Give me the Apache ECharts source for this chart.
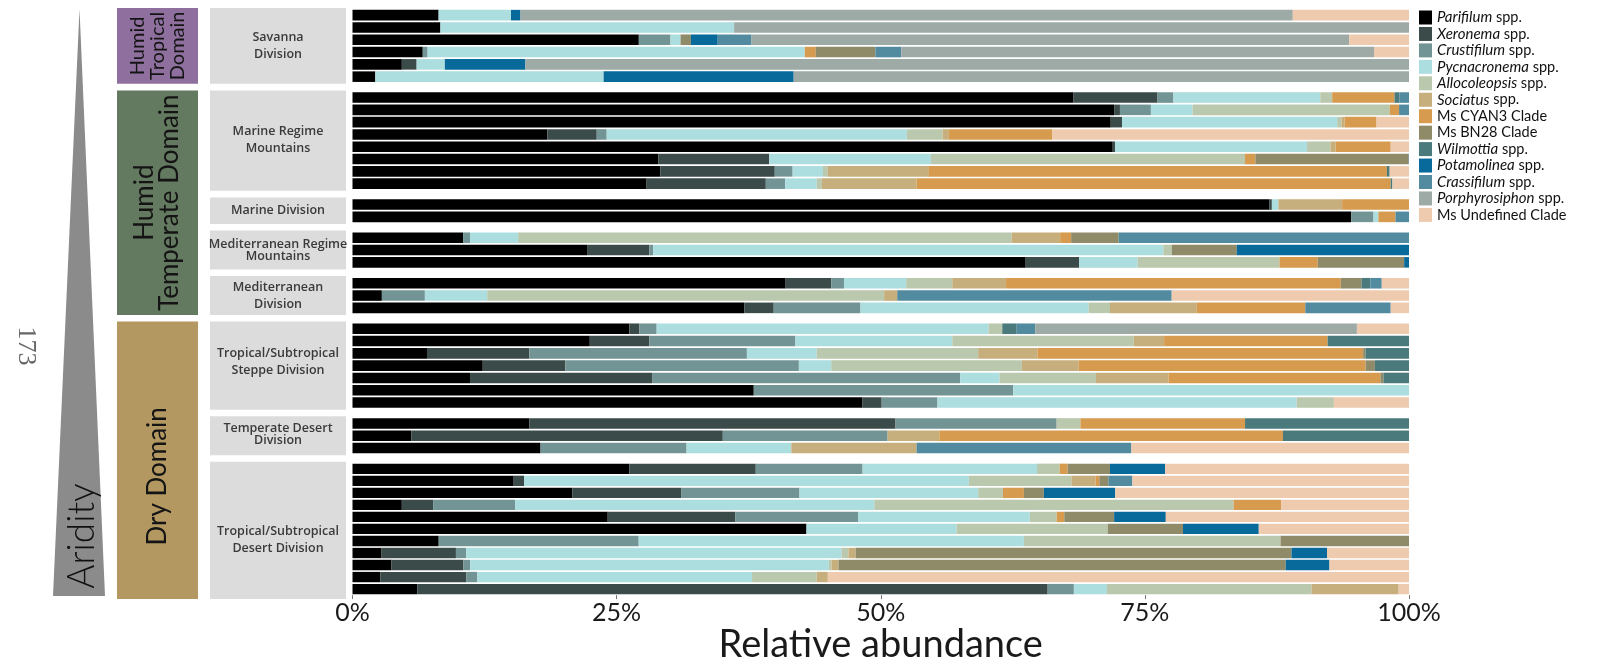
<!DOCTYPE html>
<html><head><meta charset="utf-8">
<script src="https://cdn.jsdelivr.net/npm/echarts@6/dist/echarts.min.js"></script>
<style>html,body{margin:0;padding:0;background:#fff}#c{width:1597px;height:665px}</style>
</head><body><div id="c"></div>
<script>
// ---------------- DATA ----------------
const speciesNames = ['Parifilum spp.','Xeronema spp.','Crustifilum spp.','Pycnacronema spp.','Allocoleopsis spp.','Sociatus spp.','Ms CYAN3 Clade','Ms BN28 Clade','Wilmottia spp.','Potamolinea spp.','Crassifilum spp.','Porphyrosiphon spp.','Ms Undefined Clade'];
const divisionNames = ['Savanna\nDivision','Marine Regime\nMountains','Marine Division','Mediterranean Regime\nMountains','Mediterranean\nDivision','Tropical/Subtropical\nSteppe Division','Temperate Desert\nDivision','Tropical/Subtropical\nDesert Division'];
const divisionSizes = [6, 8, 2, 3, 3, 7, 3, 11];
const domainNames = ['Humid\nTropical\nDomain','Humid\nTemperate Domain','Dry Domain'];
const domainDivisions = [[0,0],[1,4],[5,7]];
const xTicks = [0, 25, 50, 75, 100];

const parifilum = [8.15,8.32,27.1,6.65,4.67,2.16, 68.25,72.09,71.77,18.45,71.96,28.95,29.15,27.84, 86.76,94.52, 10.47,22.2,63.72, 41.0,2.78,37.1, 26.21,22.46,7.05,12.33,11.12,37.98,48.28, 16.73,5.58,17.8, 26.21,15.26,20.8,4.67,24.16,42.97,8.16,2.75,3.69,2.65,6.13];
const xeronema = [0,0,0,0,1.4,0, 7.95,0.55,1.07,4.67,0.23,10.5,10.82,11.28, 0.26,0, 0,5.9,5.05, 4.31,0,2.77, 0.95,5.64,9.68,7.82,17.28,0,1.81, 34.67,29.47,0, 11.96,0.98,10.3,2.96,12.06,0,0,7.04,6.81,8.11,59.67];
const crustifilum = [0,0,3.0,0.46,0,0, 1.5,2.93,0,0.94,0,0,1.69,1.83, 0,2.12, 0.65,0.36,0, 1.21,4.07,8.21, 1.63,13.82,20.6,22.1,29.12,24.56,5.28, 15.25,15.6,13.82, 10.11,0,11.21,7.76,11.64,0,18.93,0.97,0.65,1.05,2.48];
const pycnacronema = [6.85,27.8,0.95,35.7,2.67,21.61, 13.9,3.94,20.36,28.41,18.16,15.3,2.87,2.99, 0.62,0.46, 4.56,48.29,5.54, 5.89,5.9,21.6, 31.41,14.85,6.61,3.06,3.72,37.46,34.0, 0,0,9.91, 16.51,42.1,16.91,34.0,16.25,14.2,36.46,35.53,33.93,26.01,3.13];
const allocoleopsis = [0,0,0,0,0,0, 1.13,18.67,0.4,3.39,2.21,29.73,0.46,0.49, 0,0, 46.7,0.79,13.43, 4.36,37.57,2.02, 1.3,17.18,15.28,18.05,9.13,0,3.52, 2.25,0,0, 2.15,9.71,2.35,34.01,2.54,14.31,24.29,0.65,0.26,6.12,19.36];
const sociatus = [0,0,0,0,0,0, 0,0,0.3,0.59,0.49,0,9.57,8.96, 6.03,0, 4.6,0,0, 5.09,1.24,8.22, 0,2.87,5.61,5.38,6.87,0,0, 0,4.89,11.86, 0,2.28,0,0,0,0,0,0.69,0.66,1.05,8.25];
const cyan3 = [0,0,0,1.04,0,0, 5.9,0.88,3.03,9.78,5.22,0.98,43.35,44.88, 6.33,1.62, 1.04,0,3.62, 31.68,0,10.26, 0,15.48,30.83,27.15,20.05,0,0, 15.58,32.53,0, 0.75,0.36,1.98,4.5,0.72,0,0,0,0,0,0];
const bn28 = [0,0,0.98,5.64,0,0, 0,0,0,0,0,14.5,0,0, 0,0, 4.5,6.16,8.18, 1.96,0,0, 0,0,0.23,0.88,0.29,0,0, 0,0,0, 4.01,0.85,1.89,0,4.72,7.13,12.16,41.25,42.33,0,0];
const wilmottia = [0,0,0,0,0,0, 0.45,0,0,0,0,0.04,0.26,0.16, 0,0, 0,0,0, 0.84,0,0, 1.37,7.7,4.11,3.23,2.42,0,0, 15.52,11.93,0, 0,0,0,0,0,0,0,0,0,0,0];
const potamolinea = [0.9,0,2.54,0,7.63,17.99, 0,0,0,0,0,0,0,0, 0,0, 0,16.3,0.46, 0,0,0, 0,0,0,0,0,0,0, 0,0,0, 5.22,0,6.75,0,4.89,7.17,0,3.36,4.14,0,0];
const crassifilum = [0,0,3.2,2.45,0,0, 0.92,0.94,0,0,0,0,0,0, 0,1.28, 27.48,0,0, 1.08,25.98,8.09, 1.76,0,0,0,0,0,0, 0,0,20.33, 0,2.28,0,0,0,0,0,0,0,0,0];
const porphyrosiphon = [73.1,63.88,56.56,44.75,83.63,58.24, 0,0,0,0,0,0,0,0, 0,0, 0,0,0, 0,0,0, 30.44,0,0,0,0,0,0, 0,0,0, 0,0,0,0,0,0,0,0,0,0,0];
const undefinedClade = [11.0,0,5.67,3.31,0,0, 0,0,3.07,33.77,1.73,0,1.83,1.57, 0,0, 0,0,0, 2.58,22.46,1.73, 4.93,0,0,0,0,0,7.11, 0,0,26.28, 23.08,26.18,27.81,12.1,23.02,14.22,0,7.76,7.53,55.01,0.98];

const seriesValues = [parifilum, xeronema, crustifilum, pycnacronema, allocoleopsis, sociatus, cyan3, bn28, wilmottia, potamolinea, crassifilum, porphyrosiphon, undefinedClade];

// ---------------- STYLE / LAYOUT ----------------
const colors = ['#000000','#3b4b4a','#739494','#acdddf','#bac8ad','#c6af7c','#d69b4e','#8f8a68','#4a7a7c','#086a9b','#528ba0','#9daaa5','#eecaae'];
const domainColors = ['#8e6f9d','#647a60','#b39862'];
const TOP = 9, PITCH = 12.3, GAP = 8.6, LEFT = 352.5, RIGHT = 1597 - 1409;
const divLineHeights = [17, 17, 17, 12, 17, 17, 12, 17];
const divTextOffsets = [0, -1, 0, 0, 0, -4, -1, 9];
const FONT = 'Lato, "Open Sans", sans-serif';

const grids = [], xAxes = [], yAxes = [], series = [], groupTops = [], groupBottoms = [];
let y = TOP, start = 0;
divisionSizes.forEach((n, g) => {
  const h = n * PITCH;
  const last = g === divisionSizes.length - 1;
  grids.push({left: LEFT, right: RIGHT, top: y, height: h});
  xAxes.push({
    type: 'value', gridIndex: g, min: xTicks[0], max: xTicks[xTicks.length-1], interval: 25,
    axisLine: {show: false}, splitLine: {show: false},
    axisTick: {show: last, length: 4, lineStyle: {color: '#777'}},
    axisLabel: {show: last, formatter: '{value}%', fontSize: 25, color: '#1a1a1a', fontFamily: FONT, margin: 5},
    name: last ? 'Relative abundance' : '', nameLocation: 'middle', nameGap: 28,
    nameTextStyle: {fontSize: 38, color: '#1a1a1a', fontFamily: FONT}
  });
  const rowLabels = [];
  for (let i = 0; i < n; i++) rowLabels.push(divisionNames[g].replace('\n',' ') + ' ' + (i+1));
  yAxes.push({type: 'category', gridIndex: g, inverse: true, data: rowLabels, show: false});
  speciesNames.forEach((s, k) => {
    series.push({
      type: 'bar', name: s, stack: 'g' + g, xAxisIndex: g, yAxisIndex: g,
      barWidth: '86%', data: seriesValues[k].slice(start, start + n),
      itemStyle: {color: colors[k]}, silent: true
    });
  });
  groupTops.push(y); groupBottoms.push(y + h);
  y += h + GAP; start += n;
});

const graphic = [];
// aridity triangle
graphic.push({type: 'polygon', shape: {points: [[79.5, 9], [53, 596], [105, 596]]}, style: {fill: '#8b8b8b'}, silent: true});
graphic.push({type: 'text', x: 82, y: 536, rotation: Math.PI/2, style: {text: 'Aridity', font: '300 37px ' + FONT, fill: '#111', textAlign: 'center', textVerticalAlign: 'middle'}, silent: true});
graphic.push({type: 'text', x: 26, y: 346, rotation: -Math.PI/2, style: {text: '173', font: '26px "Liberation Serif", serif', fill: '#666', textAlign: 'center', textVerticalAlign: 'middle'}, silent: true});
// domain boxes
const domainFonts = [20, 26, 26];
const domainLH = [20, 25, 26];
const domainTextDY = [0, 0, 16];
domainNames.forEach((d, i) => {
  const t = groupTops[domainDivisions[i][0]] - 1, b = groupBottoms[domainDivisions[i][1]] + 1;
  graphic.push({type: 'rect', shape: {x: 117, y: t, width: 81, height: b - t}, style: {fill: domainColors[i]}, silent: true});
  graphic.push({type: 'text', x: 157.5, y: (t + b)/2 + domainTextDY[i], rotation: Math.PI/2,
    style: {text: d, font: domainFonts[i] + 'px ' + FONT, lineHeight: domainLH[i], fill: '#141414', textAlign: 'center', textVerticalAlign: 'middle'}, silent: true});
});
// division boxes
divisionNames.forEach((d, g) => {
  const t = groupTops[g] - 1, b = groupBottoms[g] + 1;
  graphic.push({type: 'rect', shape: {x: 210, y: t, width: 136, height: b - t}, style: {fill: '#dcdcdc'}, silent: true});
  graphic.push({type: 'text', x: 278, y: (t + b)/2 + divTextOffsets[g],
    style: {text: d, font: '600 12.5px "Open Sans", sans-serif', lineHeight: divLineHeights[g], fill: '#3a3a3a', textAlign: 'center', textVerticalAlign: 'middle'}, silent: true});
});

const chart = echarts.init(document.getElementById('c'), null, {renderer: 'canvas'});
chart.setOption({
  animation: false,
  backgroundColor: '#ffffff',
  grid: grids, xAxis: xAxes, yAxis: yAxes, series: series,
  legend: {
    orient: 'vertical', left: 1414, top: 5, itemWidth: 13, itemHeight: 14, itemGap: 1.45,
    icon: 'rect', selectedMode: false, data: speciesNames,
    formatter: function (name) {
      if (name.endsWith(' spp.')) return '{i|' + name.slice(0, -5) + '} spp.';
      return name;
    },
    textStyle: {fontFamily: FONT, fontSize: 14.5, color: '#111', lineHeight: 14,
      rich: {i: {fontFamily: FONT, fontSize: 15, fontStyle: 'italic', color: '#111', lineHeight: 14}}}
  },
  graphic: graphic
});
</script></body></html>
